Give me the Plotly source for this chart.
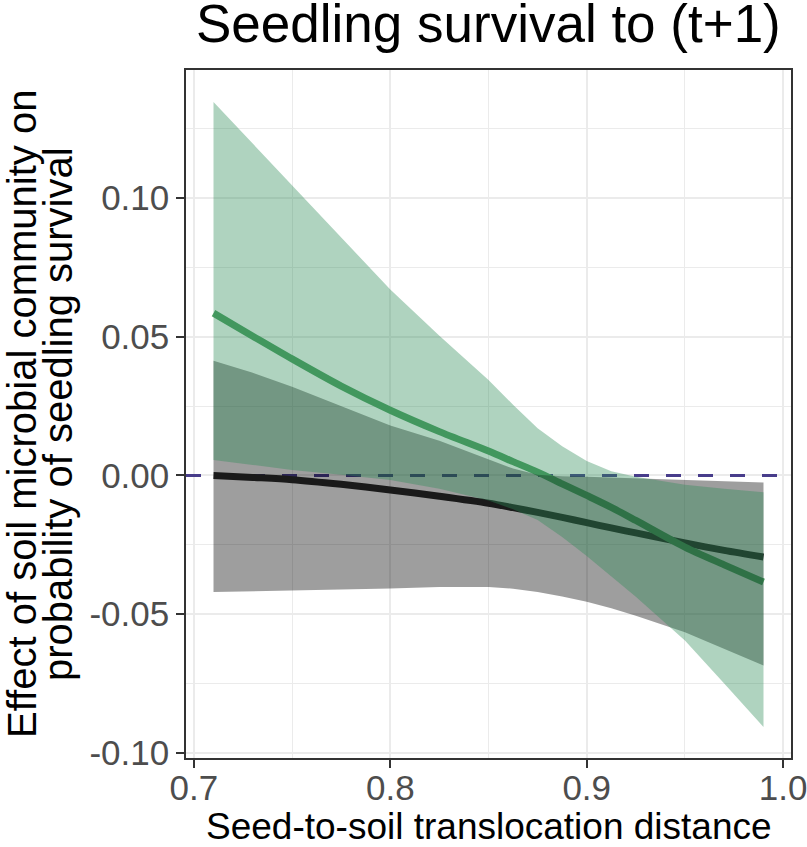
import plotly.graph_objects as go

# ---- data ----
distance = [0.71, 0.73, 0.75, 0.775, 0.80, 0.825, 0.85, 0.8625, 0.875, 0.8875,
            0.90, 0.9125, 0.925, 0.95, 0.97, 0.99]

green_fit = [0.0585, 0.0502, 0.0420, 0.0322, 0.0235, 0.0158, 0.0088, 0.0050, 0.0012, -0.0030,
             -0.0072, -0.0115, -0.0162, -0.0258, -0.0322, -0.0384]
green_upper = [0.1346, 0.1195, 0.1045, 0.0857, 0.0670, 0.0503, 0.0344, 0.0255, 0.0170, 0.0105,
               0.0052, 0.0015, -0.0005, -0.0033, -0.0048, -0.0060]
green_lower = [0.0056, 0.0038, 0.0020, 0.0003, -0.0016, -0.0048, -0.0090, -0.0122, -0.0160, -0.0222,
               -0.0290, -0.0362, -0.0437, -0.0595, -0.0750, -0.0906]

black_fit = [0.0000, -0.0007, -0.0015, -0.0032, -0.0052, -0.0075, -0.0100, -0.0116, -0.0133, -0.0151,
             -0.0170, -0.0189, -0.0207, -0.0243, -0.0270, -0.0294]
black_upper = [0.0413, 0.0370, 0.0320, 0.0250, 0.0180, 0.0125, 0.0058, 0.0025, 0.0003, -0.0003,
               -0.0005, -0.0008, -0.0010, -0.0015, -0.0020, -0.0025]
black_lower = [-0.0420, -0.0418, -0.0415, -0.0410, -0.0407, -0.0402, -0.0402, -0.0408, -0.0420, -0.0436,
               -0.0455, -0.0478, -0.0505, -0.0565, -0.0625, -0.0685]

reference_y = 0.0

x_range = [0.696, 1.004]
y_range = [-0.1018, 0.1461]
x_ticks = [0.7, 0.8, 0.9, 1.0]
x_tick_labels = ["0.7", "0.8", "0.9", "1.0"]
y_ticks = [-0.10, -0.05, 0.00, 0.05, 0.10]
y_tick_labels = ["-0.10", "-0.05", "0.00", "0.05", "0.10"]

title_text = "Seedling survival to (t+1)"
x_title = "Seed-to-soil translocation distance"
y_title_1 = "Effect of soil microbial community on"
y_title_2 = "probability of seedling survival"

FONT = "Liberation Sans, Arial, Helvetica, sans-serif"

fig = go.Figure()

# dashed zero reference line across the panel (under everything else)
fig.add_trace(go.Scatter(x=x_range, y=[reference_y, reference_y], mode="lines",
                         line=dict(color="#483d8b", width=3, dash="15px,17px"),
                         hoverinfo="skip", showlegend=False))

# fitted lines (drawn under the ribbons, as in the reference)
fig.add_trace(go.Scatter(x=distance, y=black_fit, mode="lines",
                         line=dict(color="#2b2b2b", width=7, shape="spline", smoothing=0.8),
                         hoverinfo="skip", showlegend=False))
fig.add_trace(go.Scatter(x=distance, y=green_fit, mode="lines",
                         line=dict(color="#4f9f63", width=7, shape="spline", smoothing=0.8),
                         hoverinfo="skip", showlegend=False))

# confidence ribbons
def ribbon(lower, upper, color):
    return go.Scatter(x=distance + distance[::-1], y=upper + lower[::-1],
                      mode="lines", fill="toself", fillcolor=color,
                      line=dict(width=0), hoverinfo="skip", showlegend=False)

fig.add_trace(ribbon(black_lower, black_upper, "rgba(0,0,0,0.38)"))
fig.add_trace(ribbon(green_lower, green_upper, "rgba(46,139,87,0.38)"))

grid = "#ebebeb"
tickfont = dict(family=FONT, size=35, color="#4d4d4d")
fig.update_xaxes(range=x_range, tickvals=x_ticks, ticktext=x_tick_labels,
                 showgrid=True, gridcolor=grid, gridwidth=2,
                 minor=dict(dtick=0.05, tick0=0.7, showgrid=True, gridcolor=grid, gridwidth=1.2),
                 zeroline=False, showline=True, mirror=True, linecolor="#333333", linewidth=1.5,
                 ticks="outside", ticklen=8, tickwidth=1.5, tickcolor="#333333",
                 tickfont=tickfont, ticklabeloverflow="allow", ticklabelstandoff=-10)
fig.update_yaxes(range=y_range, tickvals=y_ticks, ticktext=y_tick_labels,
                 showgrid=True, gridcolor=grid, gridwidth=2,
                 minor=dict(dtick=0.025, tick0=0, showgrid=True, gridcolor=grid, gridwidth=1.2),
                 zeroline=False, showline=True, mirror=True, linecolor="#333333", linewidth=1.5,
                 ticks="outside", ticklen=8, tickwidth=1.5, tickcolor="#333333",
                 tickfont=tickfont, ticklabeloverflow="allow", ticklabelstandoff=0)

# title and axis titles
fig.add_annotation(text=title_text, xref="paper", yref="paper", x=0.5, y=1,
                   xanchor="center", yanchor="bottom", yshift=15, showarrow=False,
                   font=dict(family=FONT, size=53, color="black"))
fig.add_annotation(text=x_title, xref="paper", yref="paper", x=0.5, y=0,
                   xanchor="center", yanchor="top", yshift=-46, showarrow=False,
                   font=dict(family=FONT, size=37, color="black"))
fig.add_annotation(text=y_title_1, textangle=-90, xref="paper", yref="paper", x=0, y=0.5,
                   xanchor="center", yanchor="middle", xshift=-(186 - 22), showarrow=False,
                   font=dict(family=FONT, size=40, color="black"))
fig.add_annotation(text=y_title_2, textangle=-90, xref="paper", yref="paper", x=0, y=0.5,
                   xanchor="center", yanchor="middle", xshift=-(186 - 58), showarrow=False,
                   font=dict(family=FONT, size=40, color="black"))

fig.update_layout(
    width=807, height=847,
    margin=dict(l=186, r=16, t=70, b=89, autoexpand=False),
    paper_bgcolor="white", plot_bgcolor="white",
)

fig.write_html("out.html", config={"displayModeBar": False},
               post_script="document.body.style.margin='0';document.body.style.padding='0';"
                           "document.body.style.overflow='hidden';")
